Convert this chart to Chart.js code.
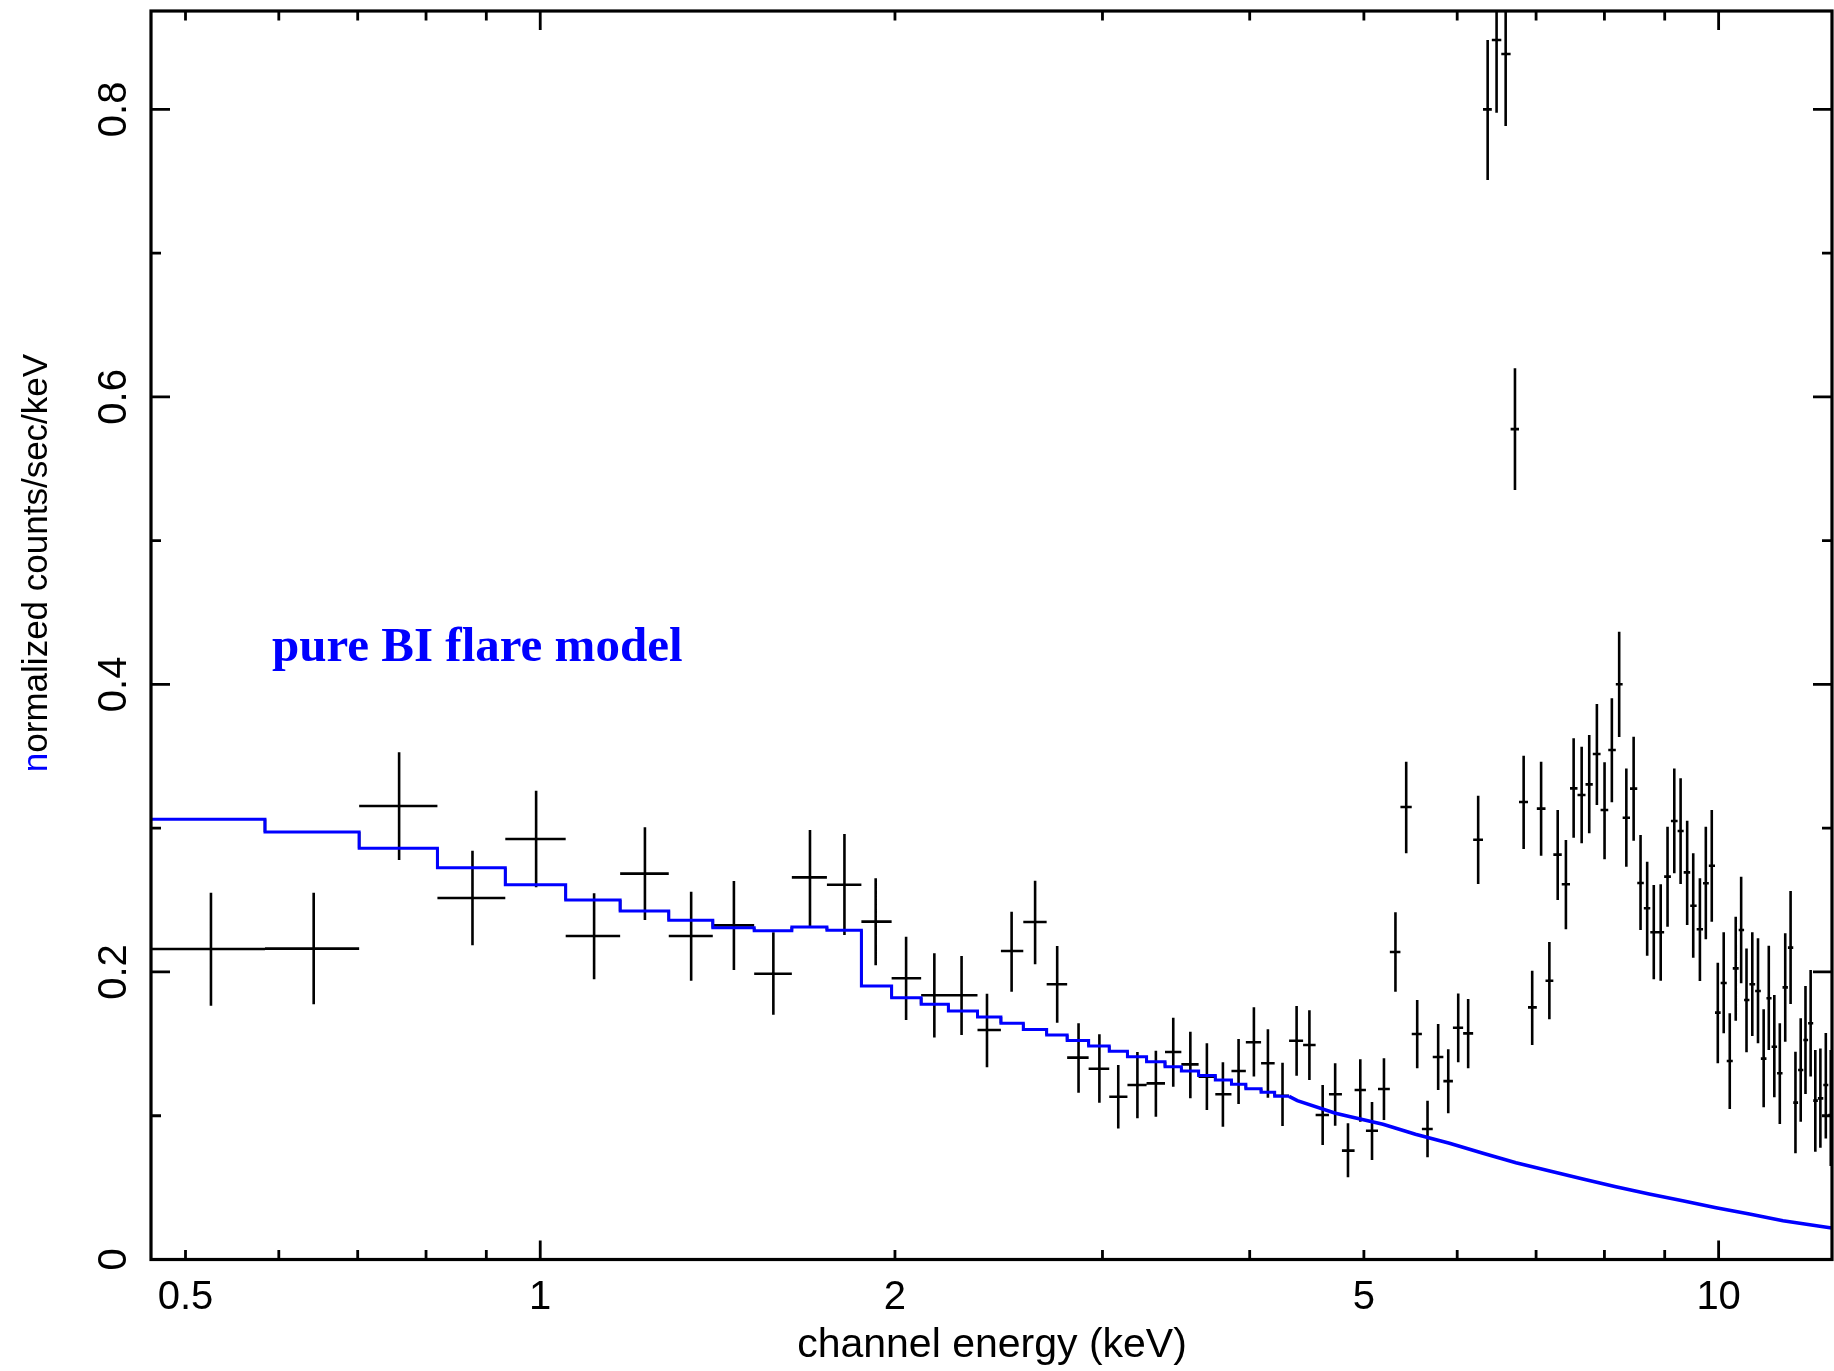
<!DOCTYPE html>
<html><head><meta charset="utf-8">
<script src="https://cdn.jsdelivr.net/npm/chart.js@4.4.0/dist/chart.umd.min.js"></script>
<style>html,body{margin:0;padding:0;background:#fff;}#wrap{width:1834px;height:1371px;position:relative;background:#fff;}</style>
</head><body><div id="wrap"><canvas id="c" width="1834" height="1371"></canvas></div>
<script>
// ---- data ----
const energy = [0.5255,0.6423,0.759,0.876,0.992,1.111,1.227,1.343,1.46,1.577,
 1.694,1.812,1.926,2.044,2.16,2.278,2.394,2.512,2.63,2.746,
 2.863,2.982,3.094,3.212,3.33,3.445,3.562,3.679,3.796,3.914,
 4.033,4.145,4.265,4.384,4.495,4.613,4.727,4.847,4.965,5.08,
 5.2,5.318,5.431,5.549,5.662,5.781,5.896,6.012,6.13,6.251,
 6.368,6.48,6.596,6.717,6.832,6.947,7.069,7.184,7.302,7.42,
 7.533,7.652,7.766,7.883,8.002,8.117,8.234,8.35,8.47,8.585,
 8.697,8.81,8.93,9.05,9.17,9.284,9.404,9.516,9.641,9.753,
 9.867,9.984,10.1,10.22,10.34,10.45,10.56,10.68,10.8,10.92,
 11.03,11.15,11.27,11.39,11.51,11.62,11.74,11.85,11.97,12.08,
 12.2,12.33,12.45];
const counts = [0.216,0.2162,0.3154,0.2514,0.2925,0.225,0.2684,0.225,0.2324,0.1988,
 0.2658,0.2607,0.235,0.1956,0.1838,0.1838,0.1596,0.2146,0.2347,0.1914,
 0.1404,0.1327,0.1132,0.1214,0.1225,0.1443,0.1357,0.1272,0.1149,0.1311,
 0.1511,0.1365,0.1139,0.1522,0.1492,0.1005,0.1149,0.0757,0.1179,0.0896,
 0.1186,0.2139,0.3147,0.1568,0.0908,0.1408,0.1241,0.1612,0.1573,0.292,
 0.80,0.8482,0.8385,0.5776,0.3182,0.1754,0.3136,0.1939,0.2816,0.261,
 0.3277,0.3231,0.3305,0.3516,0.3126,0.3544,0.4001,0.3073,0.3275,0.2619,
 0.2443,0.2276,0.2276,0.2663,0.305,0.298,0.2693,0.2461,0.2297,0.2617,
 0.2739,0.1717,0.1923,0.1381,0.2025,0.2292,0.1805,0.1914,0.1868,0.1397,
 0.1817,0.148,0.1295,0.1893,0.2169,0.1091,0.1318,0.1527,0.1643,0.1105,
 0.1121,0.1214,0.1005];
const countsLow = [0.1765,0.1775,0.2779,0.2185,0.2589,0.1949,0.2361,0.1939,0.2013,0.1703,
 0.2319,0.2257,0.2046,0.1666,0.1545,0.1561,0.1337,0.1863,0.2053,0.1647,
 0.116,0.1091,0.0912,0.0982,0.0993,0.1202,0.1121,0.104,0.0924,0.1082,
 0.1272,0.1125,0.0929,0.1278,0.1248,0.0796,0.0931,0.0572,0.0958,0.0692,
 0.097,0.1863,0.2825,0.133,0.0711,0.1179,0.1017,0.1372,0.133,0.2612,
 0.7509,0.7976,0.7884,0.5352,0.2855,0.1492,0.2809,0.1671,0.25,0.2297,
 0.2934,0.2895,0.2964,0.3161,0.2784,0.318,0.3635,0.2732,0.2913,0.2292,
 0.2113,0.1949,0.1939,0.2315,0.2686,0.2612,0.2327,0.2099,0.1937,0.2227,
 0.235,0.1365,0.1573,0.1047,0.1661,0.1921,0.1441,0.1555,0.1504,0.1059,
 0.1457,0.1128,0.0942,0.1515,0.1777,0.0739,0.0958,0.1151,0.1272,0.075,
 0.0778,0.0841,0.065];
const countsHigh = [0.2551,0.2551,0.3528,0.2843,0.3261,0.2547,0.3006,0.2558,0.2633,0.2276,
 0.2987,0.296,0.2651,0.2245,0.213,0.2111,0.1849,0.2419,0.2635,0.218,
 0.1643,0.1566,0.1353,0.1443,0.1452,0.1682,0.1584,0.1504,0.1372,0.1534,
 0.1754,0.1601,0.1369,0.1763,0.1733,0.1214,0.1365,0.0947,0.1392,0.1095,
 0.1399,0.2415,0.3462,0.1805,0.1105,0.1638,0.1462,0.1851,0.1812,0.3226,
 0.8483,0.898,0.888,0.6199,0.3504,0.2009,0.3462,0.2208,0.3126,0.2918,
 0.3625,0.3567,0.3648,0.3864,0.3458,0.3903,0.4367,0.3416,0.3636,0.2953,
 0.2767,0.2605,0.261,0.301,0.3416,0.3347,0.3052,0.2825,0.2651,0.301,
 0.3126,0.2064,0.2276,0.1712,0.2384,0.2662,0.2164,0.2276,0.2234,0.174,
 0.2183,0.184,0.1643,0.2269,0.2563,0.1445,0.1678,0.1902,0.2014,0.1457,
 0.1468,0.1576,0.1457];
const binEdges = [0.467,0.584,0.702,0.818,0.934,1.051,1.169,1.2855,1.401,1.519,
 1.635,1.751,1.873,1.987,2.105,2.22,2.35,2.46,2.57,2.69,
 2.80,2.92,3.04,3.15,3.27,3.39,3.50,3.62,3.74,3.86,
 3.97,4.09,4.20,4.32,4.44,4.55,4.67,4.79,4.91,5.02,
 5.14,5.26,5.37,5.49,5.60,5.72,5.84,5.95,6.07,6.19,
 6.31,6.42,6.54,6.66,6.77,6.89,7.01,7.13,7.24,7.36,
 7.48,7.59,7.71,7.82,7.94,8.06,8.18,8.29,8.41,8.53,
 8.64,8.75,8.87,8.99,9.11,9.23,9.34,9.46,9.58,9.70,
 9.81,9.93,10.04,10.16,10.28,10.40,10.51,10.62,10.74,10.86,
 10.98,11.09,11.21,11.33,11.45,11.57,11.68,11.80,11.91,12.03,
 12.14,12.27,12.39,12.51];
// model: histogram steps at low energy
const modelEdges = [0.467,0.584,0.702,0.818,0.934,1.051,1.169,1.2855,1.401,1.519,
 1.635,1.751,1.873,1.987,2.105,2.22,2.35,2.46,2.57,2.69,
 2.80,2.92,3.04,3.15,3.27,3.39,3.50,3.62,3.74,3.86,
 3.97,4.09,4.20,4.32];
const modelLevels = [0.3062,0.2973,0.286,0.2725,0.2607,0.250,0.2424,0.2359,0.2308,0.2287,
 0.2313,0.229,0.1902,0.1821,0.1775,0.1728,0.1687,0.1643,0.1599,0.1561,
 0.1524,0.1485,0.1448,0.1411,0.1376,0.1341,0.1311,0.1279,0.1249,0.1219,
 0.1188,0.1163,0.1135];
// model: fine-binned tail at high energy
const modelTailEnergy = [4.32,4.39,4.73,4.87,5.19,5.53,5.91,6.31,6.73,7.19,7.67,8.18,8.73,9.32,9.95,10.62,11.34,12.43,12.5];
const modelTailValue = [0.1135,0.1105,0.1017,0.0993,0.094,0.0871,0.0808,0.0739,0.0673,0.0616,0.056,0.0506,0.0456,0.0409,0.036,0.0316,0.027,0.0221,0.0219];
// axes
const xMajorTicks = [1,10];
const xMinorTicks = [0.5,0.6,0.7,0.8,0.9,2,3,4,5,6,7,8,9];
const xTickValues = [0.5,1,2,5,10];
const xTickLabels = ['0.5','1','2','5','10'];
const yMajorTicks = [0,0.2,0.4,0.6,0.8];
const yMinorTicks = [0.1,0.3,0.5,0.7];
const yTickLabels = ['0','0.2','0.4','0.6','0.8'];
const xTitle = 'channel energy (keV)';
const yTitle = 'normalized counts/sec/keV';
const noteText = 'pure BI flare model';
const noteEnergy = 0.592, noteValue = 0.4163;

// ---- build datasets ----
const barData = [];
for (let i = 0; i < energy.length; i++) {
  barData.push({x: binEdges[i], y: counts[i]}, {x: binEdges[i+1], y: counts[i]}, {x: energy[i], y: null});
  barData.push({x: energy[i], y: countsLow[i]}, {x: energy[i], y: countsHigh[i]}, {x: energy[i], y: null});
}
const modelStepData = modelEdges.map((e, i) => ({x: e, y: modelLevels[Math.min(i, modelLevels.length - 1)]}));
const modelRiseData = [];
for (let i = 1; i < modelLevels.length; i++) {
  modelRiseData.push({x: modelEdges[i], y: modelLevels[i-1]}, {x: modelEdges[i], y: modelLevels[i]}, {x: modelEdges[i], y: null});
}
const modelTailData = modelTailEnergy.map((e, i) => ({x: e, y: modelTailValue[i]}));

const framePlugin = {
  id: 'frame',
  afterDraw(chart) {
    const {ctx, chartArea: a, scales: {x, y}} = chart;
    ctx.save();
    ctx.strokeStyle = '#000';
    ctx.lineCap = 'butt';
    ctx.lineWidth = 2.8;
    const vt = (v, len) => { const p = x.getPixelForValue(v);
      ctx.beginPath(); ctx.moveTo(p, a.bottom); ctx.lineTo(p, a.bottom - len);
      ctx.moveTo(p, a.top); ctx.lineTo(p, a.top + len); ctx.stroke(); };
    const ht = (v, len) => { const p = y.getPixelForValue(v);
      ctx.beginPath(); ctx.moveTo(a.left, p); ctx.lineTo(a.left + len, p);
      ctx.moveTo(a.right, p); ctx.lineTo(a.right - len, p); ctx.stroke(); };
    xMajorTicks.forEach(v => vt(v, 19));
    xMinorTicks.forEach(v => vt(v, 9.5));
    yMajorTicks.forEach(v => ht(v, 19));
    yMinorTicks.forEach(v => ht(v, 10));
    ctx.lineWidth = 3.2;
    ctx.strokeRect(a.left, a.top, a.right - a.left, a.bottom - a.top);
    // tick labels
    ctx.fillStyle = '#000';
    ctx.font = '40px "Liberation Sans", Arial, sans-serif';
    ctx.textAlign = 'center';
    ctx.textBaseline = 'alphabetic';
    xTickValues.forEach((v, i) => ctx.fillText(xTickLabels[i], x.getPixelForValue(v), a.bottom + 49));
    yMajorTicks.forEach((v, i) => {
      ctx.save(); ctx.translate(a.left - 25, y.getPixelForValue(v)); ctx.rotate(-Math.PI / 2);
      ctx.fillText(yTickLabels[i], 0, 0); ctx.restore();
    });
    // axis titles
    ctx.font = '41px "Liberation Sans", Arial, sans-serif';
    ctx.fillText(xTitle, 992, 1357);
    ctx.save();
    ctx.font = '35px "Liberation Sans", Arial, sans-serif';
    ctx.translate(47, 563); ctx.rotate(-Math.PI / 2);
    const w = ctx.measureText(yTitle).width;
    ctx.textAlign = 'left';
    ctx.fillStyle = '#0000ff';
    ctx.fillText(yTitle[0], -w / 2, 0);
    const w0 = ctx.measureText(yTitle[0]).width;
    ctx.fillStyle = '#000';
    ctx.fillText(yTitle.slice(1), -w / 2 + w0, 0);
    ctx.restore();
    // annotation
    ctx.font = 'bold 49px "Liberation Serif", "Times New Roman", serif';
    ctx.fillStyle = '#0000ff';
    ctx.textAlign = 'left';
    ctx.fillText(noteText, x.getPixelForValue(noteEnergy), y.getPixelForValue(noteValue));
    ctx.restore();
  }
};

new Chart(document.getElementById('c'), {
  type: 'line',
  data: { datasets: [
    { data: modelStepData, stepped: 'before', borderColor: '#0000ff', borderWidth: 3, pointRadius: 0, fill: false },
    { data: modelTailData, borderColor: '#0000ff', borderWidth: 3.6, pointRadius: 0, fill: false, tension: 0 },
    { data: modelRiseData, borderColor: '#000', borderWidth: 2.6, pointRadius: 0, fill: false, spanGaps: false },
    { data: barData, borderColor: '#000', borderWidth: 2.6, pointRadius: 0, fill: false, spanGaps: false }
  ]},
  options: {
    responsive: false, animation: false, devicePixelRatio: 1, events: [],
    layout: { padding: { left: 151, top: 11, right: 2, bottom: 111.5 } },
    plugins: { legend: { display: false }, tooltip: { enabled: false } },
    scales: {
      x: { type: 'logarithmic', min: 0.4674, max: 12.48, display: false },
      y: { type: 'linear', min: 0, max: 0.8684, display: false }
    }
  },
  plugins: [framePlugin]
});
</script></body></html>
